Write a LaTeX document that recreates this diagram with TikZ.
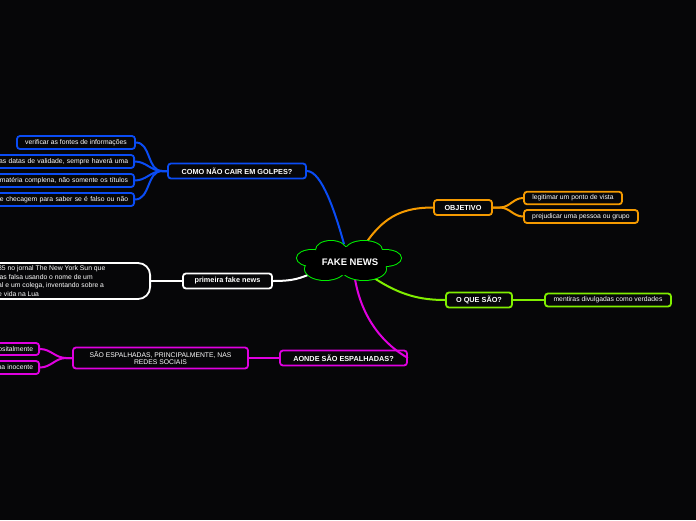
\documentclass[tikz,border=0pt]{standalone}
\usepackage{fontspec}
\setmainfont{Liberation Sans}
\definecolor{bgc}{HTML}{060608}
\definecolor{cblue}{HTML}{0A4CF5}
\definecolor{corange}{HTML}{F59A00}
\definecolor{clime}{HTML}{80EE00}
\definecolor{cmag}{HTML}{E000E0}
\definecolor{cgreen}{HTML}{00EE00}
\pgfdeclarelayer{back}
\pgfdeclarelayer{bg}
\pgfsetlayers{back,bg,main}
\begin{document}
\begin{tikzpicture}[x=1pt,y=-1pt,
  box/.style={draw, line width=1.8pt, rounded corners=3pt, fill=bgc, text=white,
    font=\fontsize{6.8}{8}\selectfont, inner sep=0pt, minimum height=13pt},
  topic/.style={box, font=\bfseries\fontsize{7.3}{9}\selectfont, minimum height=15pt},
  clipL/.style={box, anchor=east, text width=200pt, align=right, inner xsep=6pt},
  conn/.style={line width=2pt}
]
\useasboundingbox (0,0) rectangle (696,520);
\begin{pgfonlayer}{back}
\fill[bgc] (0,0) rectangle (696,520);
\end{pgfonlayer}
\clip (0,0) rectangle (696,520);

% cloud anchor points
\coordinate (cB) at (344,244);
\coordinate (cO) at (366,243);
\coordinate (cL) at (374,278);
\coordinate (cW) at (313,273);
\coordinate (cM) at (355,279);

% blue branch
\node[topic, draw=cblue, minimum width=138pt] (como) at (237,171) {COMO NÃO CAIR EM GOLPES?};
\node[box, draw=cblue, minimum width=118pt] (b1) at (76,142.5) {verificar as fontes de informações};
\node[clipL, draw=cblue] (b2) at (135,161.5) {as datas de validade, sempre haverá uma};
\node[clipL, draw=cblue] (b3) at (135,180.5) {matéria complena, não somente os títulos};
\node[clipL, draw=cblue] (b4) at (135,199.5) {e checagem para saber se é falso ou não};

% white branch
\node[topic, draw=white, minimum width=89pt] (prim) at (227.5,281) {primeira fake news};
\node[draw=white, line width=1.8pt, rounded corners=12pt, fill=bgc, anchor=east,
  minimum width=200pt, minimum height=36pt, inner sep=0pt] (wb) at (151,281) {};
\node[anchor=west, align=left, text=white, inner sep=0pt,
  font=\fontsize{6.8}{8.4}\selectfont] (wbt) at (-2,281)
  {35 no jornal The New York Sun que\\ias falsa usando o nome de um\\al e um colega, inventando sobre a\\e vida na Lua};

% magenta branch
\node[topic, draw=cmag, minimum width=127pt] (aonde) at (343.5,358) {AONDE SÃO ESPALHADAS?};
\node[box, draw=cmag, minimum width=175pt, minimum height=21pt, align=center,
  font=\fontsize{6.8}{7.6}\selectfont] (sao) at (160.5,358) {SÃO ESPALHADAS, PRINCIPALMENTE, NAS\\REDES SOCIAIS};
\node[clipL, draw=cmag, text width=120pt, minimum height=12pt] (m1) at (40,349) {ositalmente};
\node[clipL, draw=cmag, text width=120pt] (m2) at (40,367.5) {na inocente};

% orange branch
\node[topic, draw=corange, minimum width=58pt] (obj) at (463,207.5) {OBJETIVO};
\node[box, draw=corange, minimum width=98pt, minimum height=12.5pt] (leg) at (573,198) {legitimar um ponto de vista};
\node[box, draw=corange, minimum width=114pt] (pre) at (581,216.5) {prejudicar uma pessoa ou grupo};

% lime branch
\node[topic, draw=clime, minimum width=66pt] (oqs) at (479,300) {O QUE SÃO?};
\node[box, draw=clime, minimum width=126pt] (ment) at (608,300) {mentiras divulgadas como verdades};

\begin{pgfonlayer}{bg}
\draw[conn, cblue] (como.east) .. controls (322,171) and (336,215) .. (cB);
\foreach \k in {b1,b2,b3,b4}
  \draw[conn, cblue] (como.west) -- ++(-5,0) to[out=180,in=0] (\k.east);
\draw[conn, white] (prim.east) .. controls (295,281) and (300,278) .. (cW);
\draw[conn, white] (prim.west) -- (wb.east);
\draw[conn, corange] (cO) .. controls (385,215) and (405,207.5) .. (obj.west);
\foreach \k in {leg,pre}
  \draw[conn, corange] (obj.east) -- ++(7,0) to[out=0,in=180] (\k.west);
\draw[conn, clime] (cL) .. controls (400,295) and (420,300) .. (oqs.west);
\draw[conn, clime] (oqs.east) -- (ment.west);
\draw[conn, cmag] (aonde.west) -- (sao.east);
\foreach \k in {m1,m2}
  \draw[conn, cmag] (sao.west) -- ++(-6,0) to[out=180,in=0] (\k.east);
\end{pgfonlayer}

\draw[conn, cmag] (cM) .. controls (362,320) and (385,345) .. (aonde.east);

% cloud
\begin{scope}[line width=2pt]
\foreach \cx/\cy/\rx/\ry in {331/250/15/9, 364/250/18/9, 312/258/15/8, 385/258/16/8, 325/269/20/11, 364/269/22/11}
  \draw[cgreen] (\cx,\cy) ellipse [x radius=\rx, y radius=\ry];
\foreach \cx/\cy/\rx/\ry in {331/250/15/9, 364/250/18/9, 312/258/15/8, 385/258/16/8, 325/269/20/11, 364/269/22/11}
  \fill[black] (\cx,\cy) ellipse [x radius=\rx, y radius=\ry];
\fill[black] (349,261) ellipse [x radius=40, y radius=14];
\end{scope}
\node[text=white, font=\bfseries\fontsize{9.5}{11}\selectfont, inner sep=0pt] (fn) at (350,262) {FAKE NEWS};
\end{tikzpicture}
\end{document}
